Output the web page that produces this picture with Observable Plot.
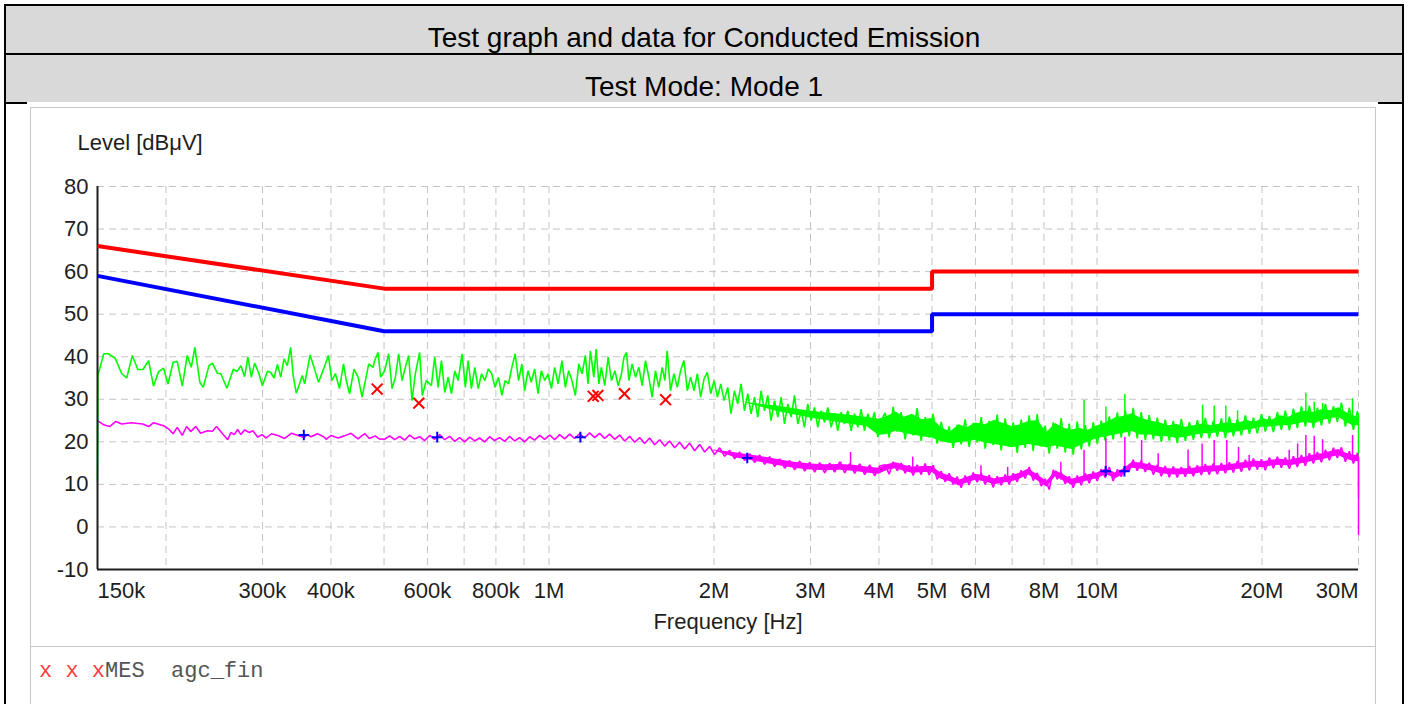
<!DOCTYPE html>
<html>
<head>
<meta charset="utf-8">
<script src="https://cdn.jsdelivr.net/npm/d3@7"></script>
<script src="https://cdn.jsdelivr.net/npm/@observablehq/plot@0.6"></script>
<style>
  body { margin: 0; background: #fff; }
  #page { position: relative; width: 1409px; height: 704px; overflow: hidden; font-family: "Liberation Sans", Arial, sans-serif; background: #fff; }
  .bl { position: absolute; background: #000; }
  .row { position: absolute; background: #d9d9d9; }
  .htxt { position: absolute; left: 4px; width: 1400px; text-align: center; font-size: 28px; line-height: 28px; color: #000; white-space: nowrap; }
  #panel { position: absolute; left: 30px; top: 107px; width: 1346px; height: 640px; border: 1px solid #c8c8c8; box-sizing: border-box; }
  #sep { position: absolute; left: 30px; top: 646px; width: 1346px; height: 1px; background: #c8c8c8; }
  #chart { position: absolute; left: 31px; top: 108px; }
  #legend { position: absolute; left: 39px; top: 661px; font-family: "Liberation Mono", "Courier New", monospace; font-size: 22px; line-height: 22px; color: #555; white-space: pre; }
  #legend .x { color: #ff3b3b; }
</style>
</head>
<body>
<div id="page">
  <div class="row" style="left:6px;top:6px;width:1396px;height:47px;"></div>
  <div class="row" style="left:6px;top:55px;width:1396px;height:47px;"></div>
  <div class="bl" style="left:4px;top:4px;width:1400px;height:2px;"></div>
  <div class="bl" style="left:4px;top:4px;width:2px;height:700px;"></div>
  <div class="bl" style="left:1402px;top:4px;width:2px;height:700px;"></div>
  <div class="bl" style="left:6px;top:53px;width:1396px;height:2px;"></div>
  <div class="bl" style="left:6px;top:102px;width:21px;height:2px;"></div>
  <div class="bl" style="left:1378px;top:102px;width:24px;height:2px;"></div>
  <div class="htxt" id="title" style="top:24px;"></div>
  <div class="htxt" id="subtitle" style="top:73px;"></div>
  <div id="panel"></div>
  <div id="sep"></div>
  <div id="chart"></div>
  <div id="legend"></div>
</div>
<script>
// ---------------- data ----------------
const titleText = "Test graph and data for Conducted Emission";
const subtitleText = "Test Mode: Mode 1";
const yLabel = "Level [dBμV]";
const xLabel = "Frequency [Hz]";
const legendMarks = "x x x";
const legendText = "MES  agc_fin";

// axis ticks
const yTicks = [-10, 0, 10, 20, 30, 40, 50, 60, 70, 80];
const xTickKHz = [150, 300, 400, 600, 800, 1000, 2000, 3000, 4000, 5000, 6000, 8000, 10000, 20000, 30000];
const xTickText = ["150k", "300k", "400k", "600k", "800k", "1M", "2M", "3M", "4M", "5M", "6M", "8M", "10M", "20M", "30M"];
const gridKHz = [200, 300, 400, 500, 600, 700, 800, 900, 1000, 2000, 3000, 4000, 5000, 6000, 7000, 8000, 9000, 10000, 20000, 30000];

// limit lines (MHz, dBµV)
const limitMHz = [0.15, 0.5, 5, 5, 30];
const qpLimit = [66, 56, 56, 60, 60];
const avLimit = [59, 46, 46, 50, 50];

// green (QP pre-scan) trace 150 kHz - 4 MHz: [kHz, dBµV]
const greenTrace = [
  [150.0,10.9],[150.2,35.6],[154.0,40.7],[157.0,40.7],[161.6,39.6],[166.1,36.0],[169.6,35.0],[173.6,40.3],[177.7,37.0],[181.6,37.0],
  [185.9,39.1],[189.8,33.1],[193.9,36.5],[198.0,37.3],[201.7,33.6],[206.1,38.7],[209.7,38.9],[214.2,33.1],[218.7,40.3],[222.4,37.5],
  [225.8,42.2],[230.6,34.0],[233.9,32.8],[239.6,37.9],[243.1,38.5],[248.3,36.1],[251.8,36.0],[258.4,32.6],[265.5,37.1],[269.4,36.5],
  [274.1,37.9],[278.3,35.3],[282.2,39.9],[286.3,35.2],[290.3,38.5],[295.6,36.0],[299.9,33.2],[306.3,36.6],[310.6,36.3],[315.0,35.0],
  [319.4,38.2],[323.9,35.2],[328.4,39.5],[333.0,37.9],[337.7,42.2],[341.5,35.3],[345.9,31.4],[354.7,35.6],[358.2,33.6],[366.4,40.4],
  [372.6,37.5],[379.7,34.0],[388.9,37.5],[395.7,40.3],[401.5,34.4],[407.6,36.0],[414.6,32.5],[421.7,38.3],[426.6,34.4],[432.5,31.3],
  [440.7,37.1],[448.3,35.2],[455.9,30.5],[462.3,34.4],[468.8,38.3],[477.5,37.5],[480.7,39.1],[487.6,41.0],[492.9,35.2],[501.3,36.7],
  [509.8,40.7],[517.1,32.5],[524.4,35.2],[531.7,40.7],[539.3,34.4],[546.8,37.5],[554.4,40.3],[562.3,29.7],[570.2,36.0],[580.6,41.0],
  [587.2,30.9],[597.2,34.4],[610.0,33.2],[618.6,39.9],[627.5,32.8],[636.4,39.1],[645.3,31.6],[654.5,35.2],[663.7,31.3],[673.0,36.7],
  [682.5,34.4],[694.0,40.7],[703.7,32.8],[711.8,39.1],[721.8,32.5],[732.0,37.5],[742.6,32.5],[753.2,36.0],[763.8,34.4],[774.9,37.1],
  [786.0,36.0],[797.1,32.8],[808.6,35.2],[820.2,30.9],[831.7,34.4],[843.6,33.6],[855.4,37.5],[867.4,40.7],[879.9,34.4],[892.3,38.3],
  [902.5,32.0],[915.2,36.7],[928.1,34.0],[941.5,37.1],[954.8,31.3],[968.2,36.7],[982.1,34.4],[995.9,36.0],[1010,32.5],[1024,37.5],
  [1039,33.6],[1056,39.1],[1071,32.8],[1086,36.7],[1101,34.4],[1117,30.9],[1133,38.3],[1149,36.0],[1165,40.3],[1178,33.6],
  [1190,41.4],[1207,35.2],[1219,41.8],[1233,33.6],[1246,37.5],[1264,33.2],[1282,39.9],[1300,34.4],[1319,36.7],[1337,33.2],
  [1356,36.0],[1370,39.9],[1385,41.0],[1399,34.4],[1418,38.3],[1438,35.2],[1459,37.5],[1479,33.2],[1500,39.1],[1521,35.2],
  [1542,30.5],[1564,36.7],[1586,32.8],[1609,37.5],[1627,34.4],[1643,41.4],[1666,32.0],[1690,36.0],[1714,32.8],[1738,36.7],
  [1763,39.1],[1788,32.0],[1813,35.2],[1839,32.0],[1865,36.0],[1891,30.5],[1918,34.8],[1945,36.3],[1973,31.3],[2001,34.4],
  [2029,30.5],[2058,33.6],[2087,29.7],[2119,32.8],[2148,26.6],[2179,32.0],[2210,28.9],[2241,33.6],[2273,27.3],[2305,31.3],
  [2337,26.6],[2371,30.5],[2404,25.8],[2438,32.0],[2473,27.3],[2507,30.9],[2542,25.0],[2579,29.7],[2615,25.8],[2652,30.5],
  [2690,24.2],[2727,28.9],[2766,25.8],[2805,30.9],[2844,24.2],[2884,27.3],[2925,23.4],[2966,28.9],[3008,25.0],[3051,28.1],
  [3093,23.4],[3137,27.3],[3182,24.6],[3226,28.1],[3272,23.4],[3318,26.6],[3365,22.6],[3412,27.0],[3461,24.2],[3509,27.3],
  [3559,22.6],[3609,26.6],[3660,23.4],[3711,27.7],[3764,22.6],[3817,26.6],[3871,24.2],[3926,27.0],[3981,21.1],[4037,25.0]
];
// green trace 4 - 30 MHz (dense): [MHz, dBµV]
const greenTraceHF = [
  [4.105,26.8],[4.175,21.0],[4.246,28.2],[4.318,22.4],[4.391,27.0],[4.465,20.6],[4.541,26.1],[4.618,21.5],[4.696,27.9],[4.776,20.2],
  [4.857,25.8],[4.939,21.0],[5.023,26.6],[5.108,19.6],[5.195,24.7],[5.283,20.4],[5.373,23.6],[5.464,18.6],[5.556,24.0],[5.651,19.4],
  [5.746,25.3],[5.844,18.8],[5.943,24.4],[6.044,19.9],[6.146,25.8],[6.250,18.4],[6.356,24.9],[6.464,19.2],[6.574,26.4],[6.685,18.0],
  [6.798,25.5],[6.914,19.0],[7.031,24.6],[7.150,17.4],[7.271,25.2],[7.395,18.6],[7.520,26.2],[7.648,17.8],[7.777,26.5],[7.909,18.9],
  [8.043,23.8],[8.180,17.2],[8.319,24.6],[8.460,18.4],[8.603,25.6],[8.749,17.5],[8.897,24.3],[9.048,17.0],[9.202,24.8],[9.358,18.2],
  [9.516,23.9],[9.678,18.9],[9.842,24.6],[10.01,19.6],[10.18,25.0],[10.35,20.3],[10.53,26.0],[10.70,20.6],[10.89,26.9],[11.07,21.0],
  [11.26,27.4],[11.45,21.3],[11.64,28.0],[11.84,20.8],[12.04,27.0],[12.25,20.4],[12.45,26.3],[12.67,20.6],[12.88,25.7],[13.10,20.0],
  [13.32,25.2],[13.55,20.3],[13.78,24.9],[14.01,19.7],[14.25,25.4],[14.49,20.2],[14.74,24.6],[14.99,20.5],[15.24,25.1],[15.50,20.9],
  [15.76,25.6],[16.03,20.8],[16.30,24.9],[16.58,21.2],[16.86,25.5],[17.15,20.9],[17.44,25.9],[17.73,21.3],[18.03,25.3],[18.34,21.5],
  [18.65,26.2],[18.97,21.9],[19.29,25.7],[19.61,22.0],[19.95,26.5],[20.28,22.4],[20.63,26.1],[20.98,22.3],[21.33,27.0],[21.69,22.8],
  [22.06,27.3],[22.44,22.7],[22.82,27.8],[23.20,23.2],[23.60,28.3],[24.00,23.6],[24.40,28.5],[24.82,23.2],[25.24,28.0],[25.67,23.9],
  [26.10,28.9],[26.55,24.3],[27.00,28.4],[27.45,24.7],[27.92,29.2],[28.39,23.6],[28.87,28.0],[29.36,22.8],[29.86,27.2],[30.0,26.0]
];
// green dense core: [MHz, low, high]
const greenCore = [
  [2.3,29.0,29.2],[2.6,27.2,28.4],[3.0,25.6,27.2],[3.4,24.5,26.5],[3.8,23.6,25.8],
  [4.0,21.5,25.3],[4.15,21.8,26.0],[4.3,22.5,27.0],[4.45,22.0,25.8],[4.6,21.6,26.5],[4.8,21.2,25.2],[5.0,20.9,25.5],
  [5.2,20.0,23.3],[5.4,19.6,22.3],[5.6,19.8,24.0],[5.8,20.0,23.3],[6.0,20.4,24.4],[6.25,19.7,24.0],[6.5,19.4,25.1],
  [6.75,19.0,24.3],[7.0,18.6,23.6],[7.25,19.0,24.0],[7.5,19.4,24.8],[7.8,19.0,25.0],[8.1,18.6,22.2],[8.4,19.0,24.3],
  [8.7,18.6,23.2],[9.0,18.2,22.8],[9.3,19.0,23.2],[9.6,19.9,22.6],[10,20.7,23.7],[10.4,21.2,24.5],[10.8,21.6,25.6],
  [11.2,22.0,26.0],[11.6,22.4,26.6],[12,21.6,25.6],[12.5,21.6,24.9],[13,21.2,24.5],[13.5,21.2,23.8],[14,20.8,24.1],
  [14.5,21.1,23.4],[15,21.5,23.8],[15.6,21.9,24.2],[16.2,21.9,23.8],[16.8,22.3,24.2],[17.4,22.0,24.5],[18,22.3,24.2],
  [18.7,22.7,25.0],[19.4,23.1,24.6],[20.1,23.5,25.4],[20.8,23.5,25.0],[21.6,23.8,26.1],[22.4,23.8,25.8],[23.2,24.2,26.8],
  [24,24.6,27.2],[24.9,24.2,26.9],[25.8,25.0,27.6],[26.7,25.4,27.3],[27.6,25.8,28.0],[28.5,24.6,26.9],[29.3,23.8,26.1],
  [30,23.8,25.8]
];
// green narrow spikes: [MHz, base, top]
const greenSpikes = [
  [9.47,22,29.7],[10.38,22,28.2],[11.24,23,31.1],[15.58,23,28.6],[16.36,23,28.4],[17.18,23,28.4],
  [18.05,23,27.3],[24.05,25,31.4],[24.91,25,29.3],[25.80,25,29.0],[29.26,25,30.1]
];
const greenTail = [[30, 6.6, 26]];

// magenta (AV pre-scan) trace 150 kHz - 4 MHz: [kHz, dBµV]
const magentaTrace = [
  [150,25.0],[154.0,24.0],[157.9,23.6],[162.0,24.8],[166.1,24.2],[172.9,24.5],[181.3,24.2],[186.1,23.6],[189.8,24.5],[198.0,23.8],
  [202.3,23.0],[206.1,21.9],[209.7,23.4],[214.2,21.5],[218.1,23.6],[221.9,22.4],[226.6,23.6],[231.4,22.0],[238.0,22.6],[243.1,22.5],
  [247.3,23.6],[253.7,21.9],[259.2,20.5],[262.8,22.2],[266.5,21.7],[270.3,22.9],[274.1,21.7],[278.1,22.8],[284.0,22.2],[288.1,22.6],
  [294.2,21.1],[299.3,21.7],[304.8,20.9],[311.5,21.9],[320.2,21.5],[329.3,20.8],[338.7,22.0],[348.5,21.5],[357.0,21.0],[362.5,21.7],
  [368.0,21.2],[377.9,21.9],[388.9,21.1],[392.0,20.6],[400.4,21.5],[412.0,20.9],[423.1,21.4],[435.2,22.0],[448.3,20.7],[455.0,21.4],
  [461.6,21.9],[470.0,20.8],[481.9,21.4],[490.0,20.7],[501.3,20.6],[511.9,21.4],[522.8,20.5],[533.9,21.3],[545.2,20.4],[556.8,21.6],
  [568.6,20.7],[580.7,21.2],[593.0,20.3],[605.6,21.5],[618.4,20.6],[631.6,21.7],[645.0,20.5],[658.6,21.3],[672.6,20.1],[686.9,21.0],
  [701.5,20.0],[716.4,21.1],[731.6,20.2],[747.1,20.9],[763.0,20.0],[779.2,21.2],[795.7,20.3],[812.6,21.0],[829.9,20.1],[847.5,21.3],
  [865.5,20.2],[883.8,21.0],[902.6,20.0],[921.8,21.2],[941.3,20.4],[961.3,21.5],[981.7,20.6],[1002.6,21.6],[1023.9,20.5],[1045.6,21.7],
  [1067.8,20.7],[1090.5,21.8],[1113.6,20.8],[1137.3,21.9],[1161.4,20.9],[1186.1,22.1],[1211.3,21.0],[1237.0,22.0],[1263.2,20.8],[1290.1,21.8],
  [1317.5,20.6],[1345.4,21.6],[1374.0,20.2],[1403.2,21.3],[1433.0,19.9],[1463.4,21.0],[1494.5,19.6],[1526.2,20.9],[1558.6,19.3],[1591.7,20.5],
  [1625.5,19.0],[1660.0,20.2],[1695.3,18.6],[1731.3,19.9],[1768.1,18.3],[1805.6,19.7],[1844.0,17.9],[1883.1,19.4],[1923.1,17.6],[1964.0,18.9],
  [2005.7,17.0],[2048.3,18.6],[2091.8,16.6],[2136.2,18.0],[2181.6,16.0],[2227.9,17.6],[2275.2,15.6],[2323.5,17.2],[2372.9,15.1],[2423.3,16.9],
  [2474.7,14.7],[2527.3,16.5],[2581.0,14.2],[2635.8,16.0],[2691.8,13.8],[2748.9,15.6],[2807.3,13.4],[2866.9,15.5],[2927.8,13.1],[2990.0,15.2],
  [3053.5,12.9],[3118.3,15.1],[3184.5,12.7],[3252.2,15.0],[3321.2,12.9],[3391.8,15.3],[3463.8,12.7],[3537.4,14.9],[3612.5,12.6],[3689.2,14.8],
  [3767.6,12.3],[3847.6,14.6],[3929.3,12.0],[4012.8,14.3]
];
// magenta trace 4 - 30 MHz (dense): [MHz, dBµV]
const magentaTraceHF = [
  [4.105,14.6],[4.175,12.4],[4.246,15.3],[4.318,13.2],[4.391,15.0],[4.465,12.6],[4.541,14.5],[4.618,12.1],[4.696,14.6],[4.776,12.3],
  [4.857,14.9],[4.939,12.2],[5.023,14.5],[5.108,11.2],[5.195,13.1],[5.283,10.6],[5.373,12.6],[5.464,10.0],[5.556,11.8],[5.651,9.2],
  [5.746,12.1],[5.844,9.9],[5.943,12.8],[6.044,10.5],[6.146,12.7],[6.250,10.0],[6.356,12.2],[6.464,9.3],[6.574,11.9],[6.685,9.8],
  [6.798,12.3],[6.914,10.0],[7.031,12.6],[7.150,10.6],[7.271,13.3],[7.395,11.4],[7.520,14.1],[7.648,10.9],[7.777,12.7],[7.909,9.6],
  [8.043,11.3],[8.180,8.8],[8.319,13.4],[8.460,11.2],[8.603,12.8],[8.749,10.1],[8.897,11.9],[9.048,9.2],[9.202,12.1],[9.358,9.8],
  [9.516,12.6],[9.678,10.3],[9.842,13.0],[10.01,10.8],[10.18,13.6],[10.35,11.6],[10.53,14.1],[10.70,10.8],[10.89,13.5],[11.07,11.8],
  [11.26,14.3],[11.45,13.2],[11.64,15.8],[11.84,13.2],[12.04,15.6],[12.25,12.9],[12.45,15.1],[12.67,12.3],[12.88,14.6],[13.10,11.9],
  [13.32,14.3],[13.55,11.7],[13.78,14.2],[14.01,11.6],[14.25,14.1],[14.49,11.8],[14.74,14.3],[14.99,11.9],[15.24,14.5],[15.50,12.2],
  [15.76,14.8],[16.03,12.3],[16.30,14.9],[16.58,12.4],[16.86,15.0],[17.15,12.6],[17.44,15.2],[17.73,12.8],[18.03,15.5],[18.34,13.0],
  [18.65,15.8],[18.97,13.3],[19.29,16.1],[19.61,13.5],[19.95,15.9],[20.28,13.3],[20.63,16.3],[20.98,13.8],[21.33,16.5],[21.69,13.9],
  [22.06,16.3],[22.44,13.7],[22.82,16.6],[23.20,14.1],[23.60,16.9],[24.00,14.4],[24.40,17.3],[24.82,14.9],[25.24,17.6],[25.67,15.2],
  [26.10,18.1],[26.55,15.7],[27.00,18.6],[27.45,16.2],[27.92,18.7],[28.39,15.3],[28.87,17.8],[29.36,14.9],[29.86,17.4],[30.0,16.0]
];
// magenta dense core: [MHz, low, high]
const magentaCore = [
  [2.0,17.9,18.1],[2.2,16.2,17.4],[2.4,15.3,16.7],[2.6,14.5,15.9],[2.8,13.8,15.2],[3.0,13.4,14.8],[3.2,13.2,14.6],
  [3.4,13.3,14.7],[3.6,13.1,14.5],[3.8,12.7,14.1],[4.0,12.4,13.8],[4.15,13.3,14.7],[4.3,13.7,15.1],[4.45,13.1,14.5],
  [4.6,12.6,14.0],[4.8,12.8,14.2],[5.0,12.8,14.2],[5.2,11.2,12.6],[5.4,10.6,12.0],[5.6,9.6,11.0],[5.8,10.3,11.7],
  [6.0,11.0,12.4],[6.25,10.6,12.0],[6.5,9.9,11.3],[6.75,10.3,11.7],[7.0,10.6,12.0],[7.25,11.3,12.7],[7.5,12.2,13.6],
  [7.8,10.8,12.2],[8.1,9.3,10.7],[8.4,11.8,13.2],[8.7,10.8,12.2],[9.0,9.8,11.2],[9.3,10.3,11.7],[9.6,10.8,12.2],
  [10,11.3,12.7],[10.4,12.3,13.7],[10.8,11.3,12.7],[11.2,12.3,13.7],[11.6,13.8,15.2],[12,13.6,15.0],[12.5,13.2,14.6],
  [13,12.6,14.0],[13.5,12.3,13.7],[14,12.2,13.6],[14.5,12.3,13.7],[15,12.4,13.8],[15.6,12.8,14.2],[16.2,12.9,14.3],
  [16.8,13.0,14.4],[17.4,13.2,14.6],[18,13.5,14.9],[18.7,13.8,15.2],[19.4,14.1,15.5],[20.1,13.9,15.3],[20.8,14.3,15.7],
  [21.6,14.5,15.9],[22.4,14.3,15.7],[23.2,14.7,16.1],[24,15.0,16.4],[24.9,15.5,16.9],[25.8,15.8,17.2],[26.7,16.3,17.7],
  [27.6,16.8,18.2],[28.5,15.9,17.3],[29.3,15.5,16.9],[30,15.3,16.7]
];
// magenta narrow spikes: [MHz, base, top]
const magentaSpikes = [
  [3.41,13.5,15.2],[3.55,13.5,17.5],[4.61,13,16.4],[6.14,11.5,14.4],[6.87,11,14.0],[8.59,11,15.2],[9.47,11,18.0],
  [10.38,12.5,20.7],[11.24,13,21.1],[12.06,14,20.3],[12.93,13,17.2],[14.66,13,18.1],[15.55,13.5,19.5],[16.36,13.5,20.3],
  [17.25,13.5,20.3],[18.12,14,18.7],[18.95,14,16.8],[22.42,15,18.0],[23.23,15,19.5],[24.05,15.5,21.5],[24.91,16,21.3],
  [25.80,16,20.5],[29.26,16,21.5]
];
const magentaTail = [[30, -2, 16]];

// final measurement markers: [kHz, dBµV]
const qpMarks = [[485.7,32.4],[578.7,29.1],[1204,30.7],[1228,30.9],[1373,31.3],[1632,29.9]];
const avMarks = [[356.9,21.6],[625.2,21.1],[1141,21.1],[2300,16.2],[10370,13.1],[11220,13.1]];

// ---------------- build ----------------
document.getElementById("title").textContent = titleText;
document.getElementById("subtitle").textContent = subtitleText;
const leg = document.getElementById("legend");
const xs = document.createElement("span"); xs.className = "x"; xs.textContent = legendMarks;
leg.appendChild(xs); leg.appendChild(document.createTextNode(legendText));

const kHz = 1e3, MHz = 1e6;
const pts = (arr, unit) => arr.map(([f, v]) => ({f: f * unit, v}));
const bands = (arr, unit) => arr.map(([f, lo, hi]) => ({f: f * unit, lo, hi}));

const greenRows = pts(greenTrace, kHz).concat(pts(greenTraceHF, MHz));
const magRows = pts(magentaTrace, kHz).concat(pts(magentaTraceHF, MHz));
const greenCoreRows = bands(greenCore, MHz);
const magCoreRows = bands(magentaCore, MHz);
const greenSpikeRows = bands(greenSpikes, MHz);
const magSpikeRows = bands(magentaSpikes, MHz);
const greenTailRows = bands(greenTail, MHz);
const magTailRows = bands(magentaTail, MHz);
const limitRows = limitMHz.map((f, i) => ({f: f * MHz, qp: qpLimit[i], av: avLimit[i]}));
const qpRows = pts(qpMarks, kHz);
const avRows = pts(avMarks, kHz);
const xTickRows = xTickKHz.map((f, i) => ({f: f * kHz, t: xTickText[i]}));
const gridHz = gridKHz.map(f => f * kHz);

const GREEN = "#00ff00", MAG = "#ff00ff", GRID = "#c4c4c4", AX = "#1e1e1e";
const lastTick = xTickRows.length - 1;

const chart = Plot.plot({
  width: 1343,
  height: 539,
  marginLeft: 66,
  marginRight: 16,
  marginTop: 78,
  marginBottom: 78,
  style: {fontFamily: '"Liberation Sans", Arial, sans-serif', fontSize: "22px", color: AX, background: "transparent", overflow: "visible"},
  x: {type: "log", domain: [150 * kHz, 30 * MHz], axis: null},
  y: {domain: [-10, 80], ticks: yTicks, tickSize: 0, tickPadding: 9, tickFormat: d => String(d), label: null},
  marks: [
    Plot.ruleX(gridHz, {stroke: GRID, strokeWidth: 1, strokeDasharray: "7,5"}),
    Plot.ruleY(yTicks.filter(d => d > -10), {stroke: GRID, strokeWidth: 1, strokeDasharray: "7,5"}),
    // green trace
    Plot.areaY(greenCoreRows, {x: "f", y1: "lo", y2: "hi", fill: GREEN}),
    Plot.line(greenRows, {x: "f", y: "v", stroke: GREEN, strokeWidth: 1.6, strokeLinejoin: "miter"}),
    Plot.ruleX(greenSpikeRows, {x: "f", y1: "lo", y2: "hi", stroke: GREEN, strokeWidth: 1.5}),
    Plot.ruleX(greenTailRows, {x: "f", y1: "lo", y2: "hi", stroke: GREEN, strokeWidth: 1.5}),
    // magenta trace
    Plot.areaY(magCoreRows, {x: "f", y1: "lo", y2: "hi", fill: MAG}),
    Plot.line(magRows, {x: "f", y: "v", stroke: MAG, strokeWidth: 1.6, strokeLinejoin: "miter"}),
    Plot.ruleX(magSpikeRows, {x: "f", y1: "lo", y2: "hi", stroke: MAG, strokeWidth: 1.5}),
    Plot.ruleX(magTailRows, {x: "f", y1: "lo", y2: "hi", stroke: MAG, strokeWidth: 1.5}),
    // axes lines
    Plot.ruleY([-10], {stroke: AX, strokeWidth: 2}),
    Plot.ruleX([150 * kHz], {stroke: AX, strokeWidth: 2}),
    // limits
    Plot.line(limitRows, {x: "f", y: "qp", stroke: "#ff0000", strokeWidth: 4, strokeLinejoin: "miter", strokeLinecap: "butt"}),
    Plot.line(limitRows, {x: "f", y: "av", stroke: "#0000ff", strokeWidth: 4, strokeLinejoin: "miter", strokeLinecap: "butt"}),
    // markers
    Plot.dot(qpRows, {x: "f", y: "v", symbol: "times", r: 5, stroke: "#ff0000", strokeWidth: 2}),
    Plot.dot(avRows, {x: "f", y: "v", symbol: "plus", r: 3.5, stroke: "#0000ff", strokeWidth: 2}),
    // x tick labels
    Plot.text(xTickRows.slice(0, 1), {x: "f", y: () => -10, text: "t", dy: 21, textAnchor: "start", fill: AX}),
    Plot.text(xTickRows.slice(1, lastTick), {x: "f", y: () => -10, text: "t", dy: 21, textAnchor: "middle", fill: AX}),
    Plot.text(xTickRows.slice(lastTick), {x: "f", y: () => -10, text: "t", dy: 21, textAnchor: "end", fill: AX}),
    // axis titles
    Plot.text([yLabel], {frameAnchor: "top-left", text: d => d, dx: -20, dy: -44, textAnchor: "start", lineAnchor: "middle", fill: AX}),
    Plot.text([xLabel], {frameAnchor: "bottom", text: d => d, dy: 52, lineAnchor: "middle", fill: AX})
  ]
});
document.getElementById("chart").appendChild(chart);
</script>
</body>
</html>
